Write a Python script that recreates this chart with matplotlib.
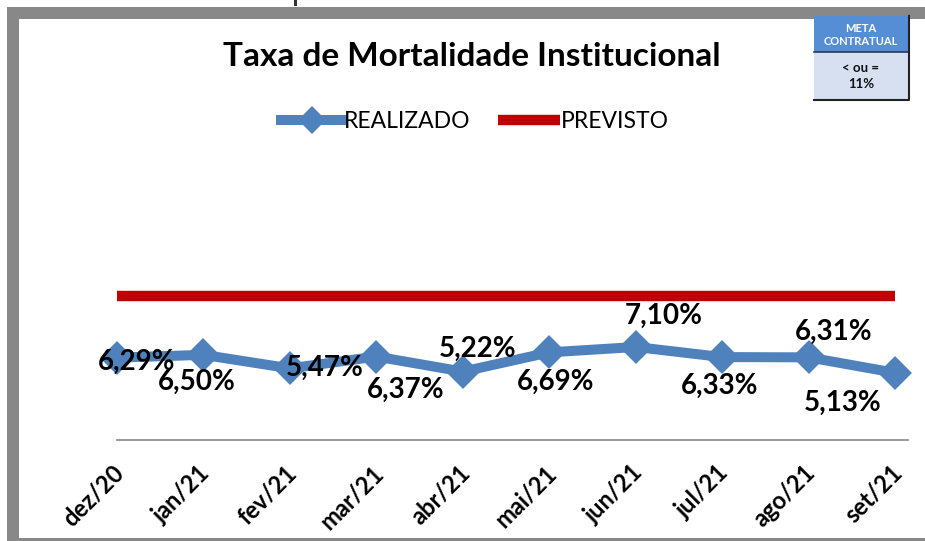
import matplotlib
matplotlib.use("Agg")
import matplotlib.pyplot as plt
import matplotlib.transforms as mtransforms
from matplotlib.patches import Rectangle

# chart data
meses = ["dez/20", "jan/21", "fev/21", "mar/21", "abr/21",
         "mai/21", "jun/21", "jul/21", "ago/21", "set/21"]
realizado = [6.29, 6.50, 5.47, 6.37, 5.22, 6.69, 7.10, 6.33, 6.31, 5.13]
previsto = [11, 11, 11, 11, 11, 11, 11, 11, 11, 11]

# label offsets in pixels (dx, dy) from each marker
label_off = [(20, -4), (-7, -27), (35, 0), (29, -33), (15, 23),
             (6, -29), (28, 31), (-3, -29), (25, 25), (-52, -30)]

plt.rcParams['font.family'] = ['Lato', 'DejaVu Sans']

W, H = 925, 541
fig = plt.figure(figsize=(W / 100, H / 100), dpi=100)

def px(x0, y0, x1, y1):
    # figure coords from pixel box (top-left origin)
    return x0 / W, 1 - y1 / H, (x1 - x0) / W, (y1 - y0) / H

ax = fig.add_axes(px(117, 178, 908, 440))
blue = "#4F81BD"
red = "#C00000"

x = list(range(len(meses)))
ax.plot(x, previsto, color=red, lw=7.5, solid_capstyle='butt', label="PREVISTO",
        zorder=2, clip_on=False)
ax.plot(x, realizado, color=blue, lw=7.2, marker='D', ms=14, mec=blue, mew=3,
        solid_joinstyle='round', label="REALIZADO", zorder=3, clip_on=False)

for i, v in enumerate(realizado):
    dx, dy = label_off[i]
    ax.annotate(f"{v:.2f}%".replace(".", ","), (i, v), xytext=(dx * 0.72, dy * 0.72),
                textcoords='offset points', ha='center', va='center',
                fontsize=20, fontweight='bold', color='black', zorder=4)

ax.set_xlim(0, 9.15)
ax.set_ylim(0, 20)
ax.set_yticks([])
ax.set_xticks(x)
ax.set_xticklabels(meses, rotation=45, ha='right', va='top', rotation_mode='anchor',
                   fontsize=17, fontweight='bold')
ax.tick_params(axis='x', length=0, pad=15)
off = mtransforms.ScaledTranslation(-5 / 100, 0, fig.dpi_scale_trans)
for lab in ax.get_xticklabels():
    lab.set_transform(lab.get_transform() + off)
for s in ['top', 'left', 'right']:
    ax.spines[s].set_visible(False)
ax.spines['bottom'].set_color("#868686")
ax.spines['bottom'].set_linewidth(1.2)

fig.text(472 / W, 1 - 57 / H, "Taxa de Mortalidade Institucional", ha='center', va='center',
         fontsize=24, fontweight='bold')

h, l = ax.get_legend_handles_labels()
leg = fig.legend([h[1], h[0]], [l[1], l[0]], loc='center', bbox_to_anchor=(475 / W, 1 - 122 / H),
                 ncol=2, frameon=False, fontsize=16.5, handlelength=2.7, handletextpad=0.05,
                 columnspacing=1.2)
leg.legend_handles[0].set_markersize(11)

# gray frame
gray = "#888888"
for box in [(7, 7, 19, 541), (7, 7, 925, 19), (7, 538, 925, 541)]:
    fig.patches.append(Rectangle(px(*box)[:2], *px(*box)[2:], transform=fig.transFigure,
                                 facecolor=gray, edgecolor='none', zorder=0))
fig.patches.append(Rectangle(px(294, 0, 297, 6)[:2], *px(294, 0, 297, 6)[2:],
                             transform=fig.transFigure, facecolor="#333333", edgecolor='none'))

# meta contratual box
fig.patches.append(Rectangle(px(814, 16, 909, 52)[:2], *px(814, 16, 909, 52)[2:],
                             transform=fig.transFigure, facecolor="#558ED5", edgecolor='none', zorder=5))
fig.patches.append(Rectangle(px(814, 52, 909, 100)[:2], *px(814, 52, 909, 100)[2:],
                             transform=fig.transFigure, facecolor="#D6E0F0", edgecolor='none', zorder=5))
fig.lines.append(plt.Line2D([814 / W, 909 / W], [1 - 52 / H] * 2, transform=fig.transFigure,
                            color="#1F3B5C", lw=1.2, zorder=6))
fig.lines.append(plt.Line2D([814 / W, 909 / W, 909 / W], [1 - 100 / H, 1 - 100 / H, 1 - 16 / H],
                            transform=fig.transFigure, color="#222222", lw=1.5, zorder=6))
fig.text(861 / W, 1 - 35 / H, "META\nCONTRATUAL", ha='center', va='center', fontsize=8,
         fontweight='bold', color='white', linespacing=1.3, zorder=7)
fig.text(861 / W, 1 - 76 / H, "< ou =\n11%", ha='center', va='center', fontsize=9.5,
         fontweight='bold', color='#111111', linespacing=1.5, zorder=7)

fig.savefig("out.png", dpi=100)
